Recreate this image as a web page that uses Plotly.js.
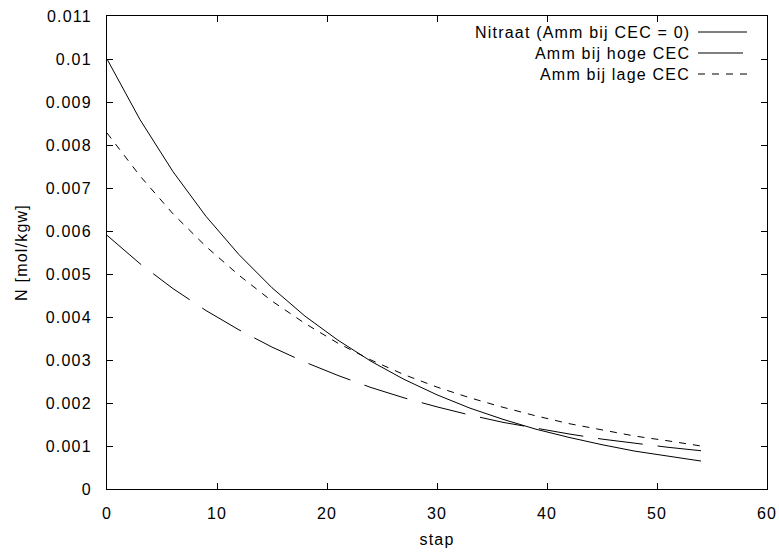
<!DOCTYPE html>
<html>
<head>
<meta charset="utf-8">
<script src="https://cdn.plot.ly/plotly-3.0.1.min.js"></script>
<style>
html,body{margin:0;padding:0;background:#fff;}
#chart{width:779px;height:556px;}
svg text{letter-spacing:1.2px;}
</style>
</head>
<body>
<div id="chart"></div>
<script>
// Data
const stap = [0, 3, 6, 9, 12, 15, 18, 21, 24, 27, 30, 33, 36, 39, 42, 45, 48, 51, 54];
const nitraat = [0.0100, 0.00859, 0.00738, 0.00634, 0.00545, 0.00468, 0.00402, 0.00346, 0.00297, 0.00255, 0.00219, 0.00188, 0.00162, 0.00139, 0.00120, 0.00103, 0.00088, 0.00076, 0.00065];
const ammHoge = [0.00590, 0.00524, 0.00466, 0.00415, 0.00370, 0.00330, 0.00295, 0.00264, 0.00236, 0.00212, 0.00191, 0.00172, 0.00155, 0.00141, 0.00128, 0.00116, 0.00106, 0.00097, 0.00089];
const ammLage = [0.00828, 0.00728, 0.00640, 0.00564, 0.00497, 0.00437, 0.00385, 0.00339, 0.00300, 0.00266, 0.00237, 0.00212, 0.00190, 0.00170, 0.00152, 0.00137, 0.00123, 0.00112, 0.00100];
const seriesNames = ["Nitraat (Amm bij CEC = 0)", "Amm bij hoge CEC", "Amm bij lage CEC"];
const xTicks = [0, 10, 20, 30, 40, 50, 60];
const yTicks = [0, 0.001, 0.002, 0.003, 0.004, 0.005, 0.006, 0.007, 0.008, 0.009, 0.01, 0.011];

const dashes = ["solid", "45px,15px", "7px,7px"];
const ys = [nitraat, ammHoge, ammLage];
const FONT = "Liberation Sans, Arial, sans-serif";

const traces = ys.map((y, i) => ({
  x: stap, y: y, type: "scatter", mode: "lines", name: seriesNames[i],
  line: {color: "#000", width: 1, dash: dashes[i]}, showlegend: false
}));

// manual legend (text right-aligned, sample to the right, like gnuplot)
const annotations = [];
const shapes = [];
const legTop = 32, legStep = 21;
seriesNames.forEach((n, i) => {
  const yp = 1 - (legTop + i * legStep - 16) / 473;
  annotations.push({xref: "paper", yref: "paper", x: (692 - 107) / 660, y: yp, xanchor: "right", yanchor: "middle",
    text: n, showarrow: false, font: {family: FONT, size: 16, color: "#000"}});
  shapes.push({type: "line", xref: "paper", yref: "paper", x0: (698 - 107) / 660, x1: (747 - 107) / 660, y0: yp, y1: yp,
    line: {color: "#000", width: 1, dash: dashes[i]}});
});

const axisCommon = {
  showgrid: false, zeroline: false, showline: true, linecolor: "#000", linewidth: 1,
  mirror: "ticks", ticks: "inside", ticklen: 6, tickcolor: "#000", tickwidth: 1,
  tickfont: {family: FONT, size: 16, color: "#000"}
};

const layout = {
  width: 779, height: 556,
  margin: {l: 107, r: 12, t: 16, b: 67},
  paper_bgcolor: "#fff", plot_bgcolor: "#fff",
  showlegend: false,
  xaxis: Object.assign({}, axisCommon, {
    range: [0, 60], tickvals: xTicks, ticktext: xTicks.map(String), ticklabelstandoff: 10,
    title: {text: "stap", font: {family: FONT, size: 16, color: "#000"}, standoff: 12}
  }),
  yaxis: Object.assign({}, axisCommon, {
    range: [0, 0.011], tickvals: yTicks, ticktext: yTicks.map(v => String(+v.toFixed(3))), ticklabelstandoff: 11,
    title: {text: "N [mol/kgw]", font: {family: FONT, size: 16, color: "#000"}, standoff: 14}
  }),
  annotations: annotations,
  shapes: shapes
};

Plotly.newPlot("chart", traces, layout, {staticPlot: true, displayModeBar: false});
</script>
</body>
</html>
